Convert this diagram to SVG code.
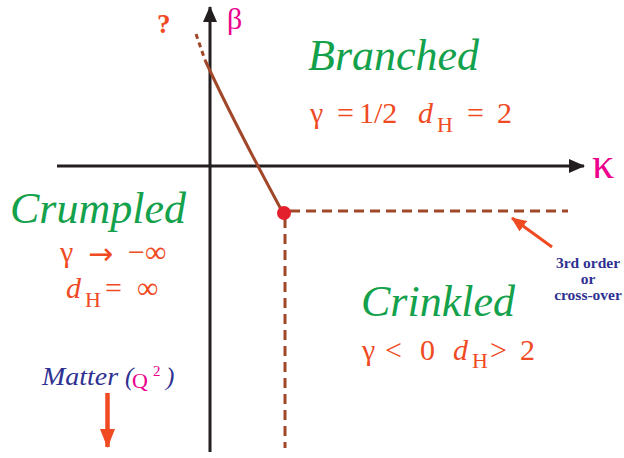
<svg xmlns="http://www.w3.org/2000/svg" width="624" height="458" viewBox="0 0 624 458">
<defs>
<marker id="ax" markerWidth="16" markerHeight="14" refX="15" refY="7" orient="auto" markerUnits="userSpaceOnUse" viewBox="0 0 16 14"><path d="M0,0 L16,7 L0,14 z" fill="#231f20"/></marker>
<marker id="ra" markerWidth="19" markerHeight="15" refX="18" refY="7.5" orient="auto" markerUnits="userSpaceOnUse" viewBox="0 0 19 15"><path d="M0,0 L19,7.5 L0,15 z" fill="#f04a23"/></marker>
<marker id="rs" markerWidth="15" markerHeight="13" refX="14" refY="6.5" orient="auto" markerUnits="userSpaceOnUse" viewBox="0 0 15 13"><path d="M0,0 L15,6.5 L0,13 z" fill="#f04a23"/></marker>
</defs>
<style>
text{font-family:"Liberation Serif","Times New Roman","DejaVu Serif",serif;white-space:pre}
.ax{stroke:#231f20;stroke-width:3;fill:none}
.br{stroke:#a0472a;stroke-width:3;fill:none}
.dash{stroke-dasharray:10 6}
.phase{font-style:italic;font-size:44px;fill:#13a14b}
.eq{font-size:30px;fill:#f04a23}
.it{font-style:italic}
.sub{font-size:22px}
.mag{fill:#ec008c}
.note{font-weight:bold;font-size:15.5px;fill:#2e3192;text-anchor:middle}
</style>
<g id="connectors">
<line class="ax" x1="57" y1="166" x2="584" y2="166" marker-end="url(#ax)"/>
<line class="ax" x1="210" y1="452" x2="210" y2="7" marker-end="url(#ax)"/>
<path class="br" d="M196,34 L205,60" stroke-dasharray="5 4"/>
<path class="br" d="M205,60 C222,97 250,152 283,213"/>
<line class="br dash" x1="290" y1="211" x2="568" y2="211"/>
<line class="br dash" x1="285" y1="218" x2="285" y2="448"/>
<line x1="552" y1="247" x2="512" y2="218" stroke="#f04a23" stroke-width="3" marker-end="url(#rs)"/>
<line x1="107.5" y1="393" x2="107.5" y2="447" stroke="#f04a23" stroke-width="4.5" marker-end="url(#ra)"/>
</g>
<g id="critical-point"><circle cx="284" cy="213" r="7" fill="#e31e2d"/></g>
<g id="axis-labels">
<text x="157" y="33" font-weight="bold" font-size="27" fill="#f04a23">?</text>
<text class="mag" x="227" y="29" font-size="30">β</text>
<text class="mag" x="592" y="178" font-size="44">κ</text>
</g>
<g id="branched">
<text class="phase" x="308" y="70">Branched</text>
<text class="eq" y="123"><tspan x="310">γ</tspan><tspan x="337">=</tspan><tspan x="359">1/2</tspan><tspan x="418" class="it">d</tspan><tspan x="437" dy="9" class="sub">H</tspan><tspan x="467" dy="-9">=</tspan><tspan x="497">2</tspan></text>
</g>
<g id="crumpled">
<text class="phase" x="10" y="223">Crumpled</text>
<text class="eq" y="262"><tspan x="60">γ</tspan><tspan x="128">−∞</tspan></text>
<text class="eq" x="88" y="264" style="font-family:'DejaVu Sans',sans-serif" font-size="29">→</text>
<text class="eq" y="298"><tspan x="66" class="it">d</tspan><tspan x="85" dy="9" class="sub">H</tspan><tspan x="105" dy="-9">=</tspan><tspan x="137">∞</tspan></text>
</g>
<g id="crinkled">
<text class="phase" x="361" y="316">Crinkled</text>
<text class="eq" y="360"><tspan x="362">γ</tspan><tspan x="385">&lt;</tspan><tspan x="420">0</tspan><tspan x="453" class="it">d</tspan><tspan x="472" dy="8" class="sub">H</tspan><tspan x="490" dy="-8">&gt;</tspan><tspan x="520">2</tspan></text>
</g>
<g id="matter">
<text y="385" font-size="25" fill="#2e3192"><tspan x="42" font-style="italic" textLength="76" lengthAdjust="spacingAndGlyphs">Matter</tspan><tspan x="125" font-style="italic">(</tspan><tspan x="132" y="388" class="mag" font-size="22">Q</tspan><tspan x="153" y="376" class="mag" font-size="15">2</tspan><tspan x="166" y="385" font-style="italic">)</tspan></text>
</g>
<g id="third-order">
<text class="note" x="588" y="268">3rd order</text>
<text class="note" x="588" y="284">or</text>
<text class="note" x="588" y="300">cross-over</text>
</g>
</svg>
